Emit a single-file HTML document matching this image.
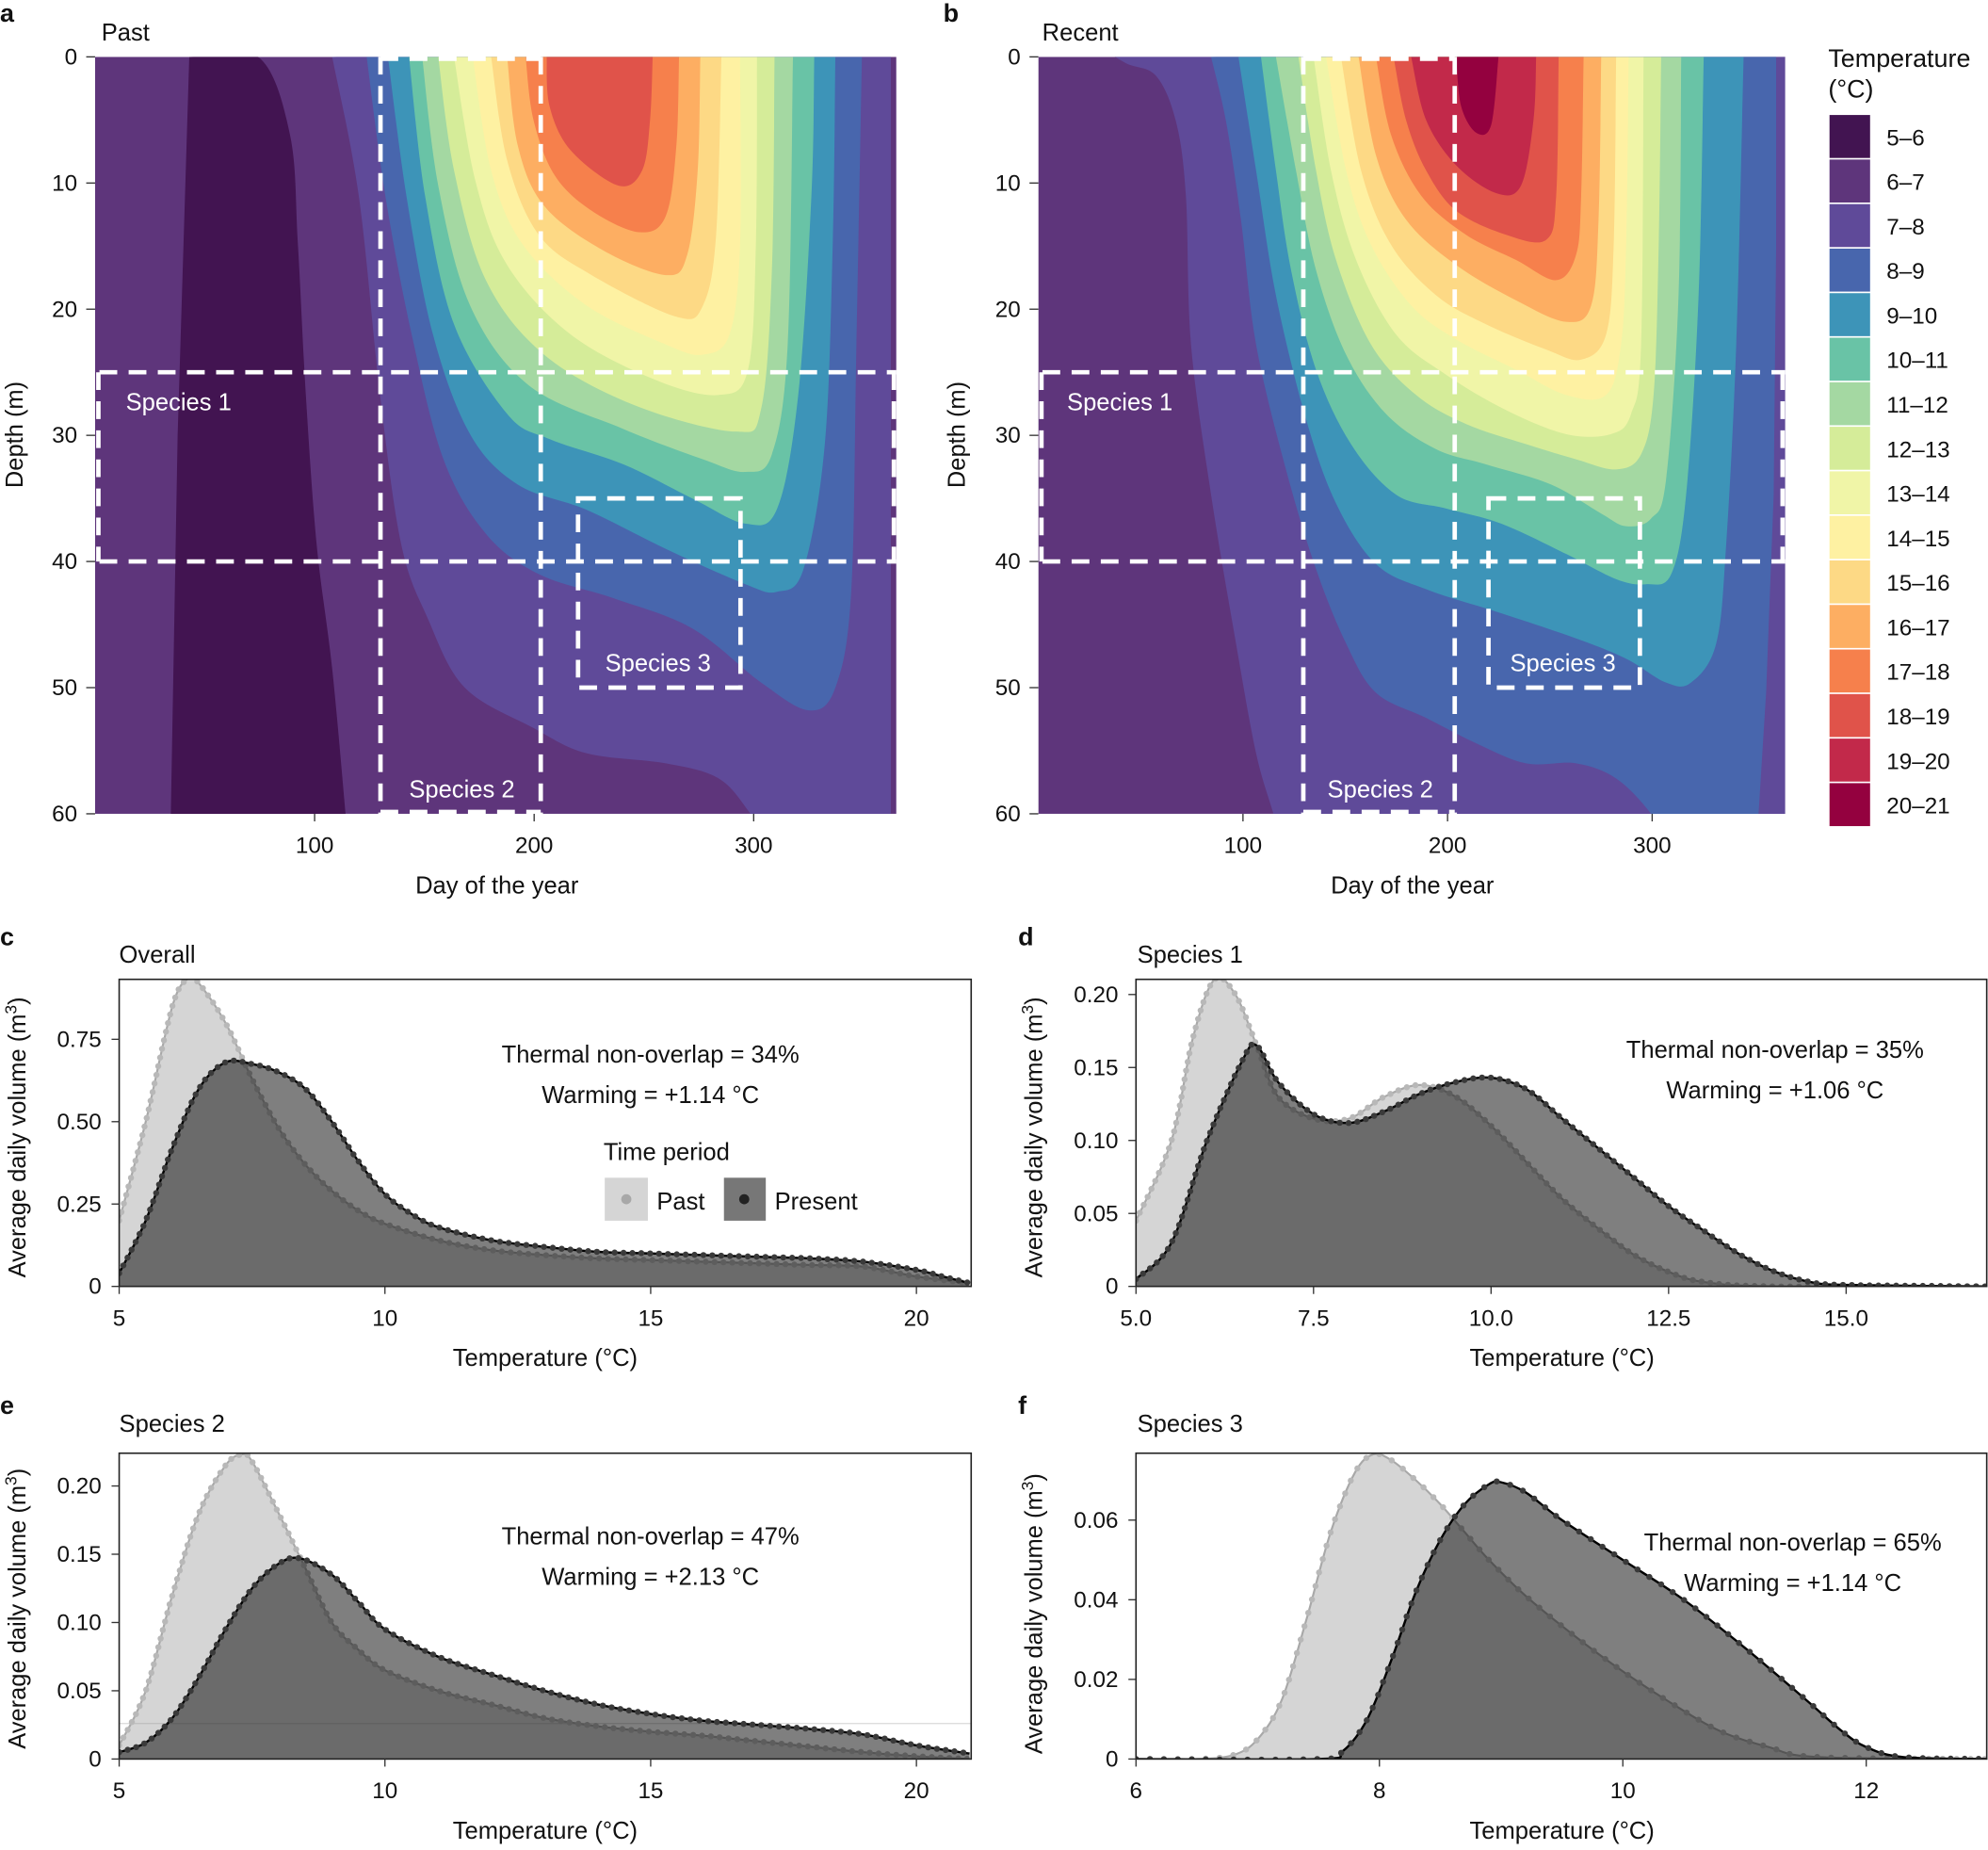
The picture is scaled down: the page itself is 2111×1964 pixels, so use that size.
<!DOCTYPE html>
<html><head><meta charset="utf-8"><style>
html,body{margin:0;padding:0;background:#fff;}
svg{display:block;font-family:"Liberation Sans",Arial,sans-serif;}
</style></head><body>
<svg id="fig" xmlns="http://www.w3.org/2000/svg" width="2111" height="1964" viewBox="0 0 1568 1464" preserveAspectRatio="none">
<defs>
<clipPath id="clipA"><rect x="75" y="45" width="632" height="599"/></clipPath>
<clipPath id="clipB"><rect x="819" y="45" width="589" height="599"/></clipPath>
<clipPath id="clipC"><rect x="94" y="775" width="672" height="243"/></clipPath>
<clipPath id="clipD"><rect x="896" y="775" width="671" height="243"/></clipPath>
<clipPath id="clipE"><rect x="94" y="1150" width="672" height="242"/></clipPath>
<clipPath id="clipF"><rect x="896" y="1150" width="671" height="242"/></clipPath>
</defs>
<g id="root"></g>
<g font-size="19" fill="#111">
<text x="0" y="17" font-weight="bold" font-size="20">a</text>
<text x="744" y="17" font-weight="bold" font-size="20">b</text>
<text x="0" y="748" font-weight="bold" font-size="20">c</text>
<text x="803" y="748" font-weight="bold" font-size="20">d</text>
<text x="0" y="1119" font-weight="bold" font-size="20">e</text>
<text x="803" y="1119" font-weight="bold" font-size="20">f</text>
<text x="80" y="32">Past</text>
<text x="822" y="32">Recent</text>
<text x="94" y="762">Overall</text>
<text x="897" y="762">Species 1</text>
<text x="94" y="1133">Species 2</text>
<text x="897" y="1133">Species 3</text>
<text x="392" y="707" text-anchor="middle">Day of the year</text>
<text x="1114" y="707" text-anchor="middle">Day of the year</text>
<text transform="translate(18,344) rotate(-90)" text-anchor="middle">Depth (m)</text>
<text transform="translate(761,344) rotate(-90)" text-anchor="middle">Depth (m)</text>
<text x="430" y="1081" text-anchor="middle">Temperature (°C)</text>
<text x="1232" y="1081" text-anchor="middle">Temperature (°C)</text>
<text x="430" y="1455" text-anchor="middle">Temperature (°C)</text>
<text x="1232" y="1455" text-anchor="middle">Temperature (°C)</text>
<text transform="translate(20,900) rotate(-90)" text-anchor="middle">Average daily volume (m<tspan font-size="13" dy="-7">3</tspan><tspan dy="7">)</tspan></text>
<text transform="translate(822,900) rotate(-90)" text-anchor="middle">Average daily volume (m<tspan font-size="13" dy="-7">3</tspan><tspan dy="7">)</tspan></text>
<text transform="translate(20,1273) rotate(-90)" text-anchor="middle">Average daily volume (m<tspan font-size="13" dy="-7">3</tspan><tspan dy="7">)</tspan></text>
<text transform="translate(822,1277) rotate(-90)" text-anchor="middle">Average daily volume (m<tspan font-size="13" dy="-7">3</tspan><tspan dy="7">)</tspan></text>
<text x="513" y="841" text-anchor="middle">Thermal non-overlap = 34%</text>
<text x="513" y="873" text-anchor="middle">Warming = +1.14 °C</text>
<text x="1400" y="837" text-anchor="middle">Thermal non-overlap = 35%</text>
<text x="1400" y="869" text-anchor="middle">Warming = +1.06 °C</text>
<text x="513" y="1222" text-anchor="middle">Thermal non-overlap = 47%</text>
<text x="513" y="1254" text-anchor="middle">Warming = +2.13 °C</text>
<text x="1414" y="1227" text-anchor="middle">Thermal non-overlap = 65%</text>
<text x="1414" y="1259" text-anchor="middle">Warming = +1.14 °C</text>
<text x="476" y="918">Time period</text>
<rect x="477" y="932" width="34" height="34" fill="#d5d5d5"/>
<circle cx="494" cy="949" r="4" fill="#a8a8a8"/>
<text x="518" y="957">Past</text>
<rect x="571" y="932" width="33" height="34" fill="#777"/>
<circle cx="587" cy="949" r="4" fill="#222"/>
<text x="611" y="957">Present</text>
<text x="1442" y="53" font-size="20">Temperature</text>
<text x="1442" y="77" font-size="20">(°C)</text>
</g>
</svg>
<script>
const bandLabels = ["5–6","6–7","7–8","8–9","9–10","10–11","11–12","12–13","13–14","14–15","15–16","16–17","17–18","18–19","19–20","20–21"];
const bandColors = ["#421451","#5e357b","#5f4a99","#4866ad","#3d94b8","#69c3a6","#a4d8a2","#d5ec99","#f0f5a7","#fef1a2","#fdd985","#fdae62","#f6804c","#e0534a","#c2294a","#94013f"];
const dayTicks = [100,200,300];
const depthTicks = [0,10,20,30,40,50,60];

const pastCold = [[42.9,0],[74.3,0],[88.8,6.2],[92.4,14.9],[96,26.8],[100.9,38.6],[108,48.5],[114.1,60]];
const pastColdClose = [[34.5,60],[37.6,30],[42.9,0]];
const pastLevels = [7,8,9,10,11,12,13,14,15,16,17,18];
const past7 = [[108,0],[120.1,11],[129.8,26.8],[139.4,38.6],[151.5,44.5],[168.4,50],[199.7,53.2],[223.8,55.2],[260,56],[284.1,57.2],[298.6,60],[310,63]];
const past7Close = [[362.5,63],[362.5,-3]];
const past8 = [[123.7,0],[132.2,11],[144.2,22],[158.7,31.9],[178,37.8],[202.1,41],[235.9,42.9],[272,45.3],[303.4,49.6],[325.1,51.8],[337.2,50],[344.4,42.5],[346.8,22.8],[349.3,0]];
const past9 = [[133.4,0],[141.8,11],[153.9,22],[170.8,29.9],[192.5,33.9],[223.8,35.9],[260,39],[296.2,41.8],[310.7,42.4],[322.7,40.6],[332.4,30.7],[336,14.9],[337.2,0]];
const past10 = [[143,0],[150.3,11],[163.5,21.2],[187.7,28.3],[207,30.3],[240.7,32.3],[272,35],[296.2,37],[310.7,35.8],[320.3,26.8],[326.3,11],[327.6,0]];
const past11 = [[149,0],[156.3,10.2],[170.8,19.7],[197.3,26],[240.7,29.5],[276.9,31.9],[296.2,32.9],[308.3,31.5],[315.5,22.8],[317.9,0]];
const past12 = [[156.3,0],[163.5,9],[178,17.7],[204.5,23.6],[245.5,27.6],[291.4,29.7],[303.4,27.9],[308.3,16.9],[309.5,0]];
const past13 = [[163.5,0],[173.2,9.8],[187.7,16.5],[216.6,22],[255.2,25.6],[284.1,26.8],[297.4,24.8],[301,14.9],[301.5,0]];
const past14 = [[172,0],[180.4,9],[194.9,14.9],[223.8,19.7],[260,22.8],[276.9,23.6],[289,22],[293.8,14.9],[293.8,0]];
const past15 = [[180.4,0],[187.7,8.2],[202.1,14.1],[226.2,17.3],[264.8,20.6],[276.9,19.7],[282.9,14.1],[285.3,0]];
const past16 = [[187.7,0],[192.5,7],[204.5,11.8],[231,15.3],[260,17.3],[269.7,15.7],[274.5,9],[275.7,0]];
const past17 = [[196.1,0],[199.7,5],[209.4,9.4],[226.2,12.2],[248,13.9],[260,12.6],[264.8,7],[266,0]];
const past18 = [[205.7,0],[207,3.9],[216.6,7.4],[238.3,10.2],[249.2,9],[252.8,5],[254,0]];

const recentLevels = [7,8,9,10,11,12,13,14,15,16,17,18,19,20];
const recent7 = [[28.1,-1],[42.8,0.5],[57.5,1.5],[67.2,5.1],[72.1,11],[74.6,22.8],[84.4,34.7],[96.6,46.5],[106.4,55.2],[114.9,60],[120,63]];
const recent7Close = [[370,63],[370,-3]];
const recent8 = [[84.4,0],[91.7,5.1],[99,12.9],[106.4,22.8],[121,32.7],[135.7,40.6],[150.4,46.5],[165,50.4],[189.5,52.4],[213.9,54.4],[238.4,56],[262.8,56],[282.4,57.2],[299.5,60],[310,63]];
const recent8Close = [[351,63],[352,60],[355.7,50.4],[359.4,34.7],[360.6,14.9],[360.6,-3]];
const recent9 = [[97.8,0],[106.4,9],[116.1,18.9],[130.8,28.7],[145.5,35.4],[165,40.2],[189.5,42.2],[226.2,44.1],[262.8,46.1],[287.2,47.7],[306.8,49.6],[319,49.6],[331.3,46.5],[336.2,38.6],[341.1,22.8],[344.7,0]];
const recent10 = [[108.8,0],[116.1,9],[123.5,16.9],[135.7,24.8],[152.8,30.7],[174.8,34.7],[199.3,35.8],[226.2,37],[257.9,39.4],[282.4,41.4],[297,41.8],[309.3,41],[316.6,34.7],[322.7,18.9],[325.2,0]];
const recent11 = [[116.1,0],[125.9,9],[135.7,16.9],[150.4,23.6],[169.9,28.3],[194.4,31.1],[218.8,32.3],[250.6,33.9],[275.1,36.2],[287.2,37.2],[299.5,36.6],[306.8,33.5],[312.9,18.9],[314.2,0]];
const recent12 = [[127.1,0],[135.7,9],[145.5,16.1],[162.6,22.8],[184.6,26.8],[209,29.1],[238.4,30.7],[262.8,31.9],[282.4,32.7],[294.6,31.5],[300.7,26.8],[303.2,14.9],[304.4,0]];
const recent13 = [[134.5,0],[143,9],[155.3,16.1],[174.8,22],[199.3,25.2],[228.6,28],[257.9,29.9],[279.9,29.9],[289.7,28.3],[294.6,22.8],[295.8,0]];
const recent14 = [[140.6,0],[150.4,9],[162.6,14.9],[182.2,19.7],[204.2,22.4],[233.5,24.8],[257.9,26.8],[277.5,26.8],[284.8,22.8],[287.3,14.9],[288.5,0]];
const recent15 = [[147.9,0],[157.7,9],[172.4,14.9],[194.4,18.9],[218.8,21.2],[248.2,23.2],[265.3,24],[277.5,22],[281.2,14.9],[282.4,0]];
const recent16 = [[156.5,0],[165,7.8],[179.7,12.9],[204.2,16.5],[233.5,19.3],[257.9,21],[270.2,19.7],[273.8,12.9],[275.1,0]];
const recent17 = [[165,0],[172.4,6.2],[187.1,11],[209,14.1],[233.5,16.1],[253.1,17.7],[262.8,15.7],[265.3,11],[266.5,0]];
const recent18 = [[173.6,0],[179.7,5],[189.5,9],[204.2,12.2],[228.6,14.1],[248.2,14.5],[253.1,11],[254.3,0]];
const recent19 = [[182.2,0],[189.5,5],[204.2,8.6],[223.7,10.8],[235.9,10.2],[242,5],[243.3,0]];
const recent20 = [[204.2,0],[206.6,3.9],[213.9,6],[221.3,5.4],[224.9,0]];

const species1Depth = [25,40];
const species2Days = [130,203];
const species3Days = [220,294];
const species3Depth = [35,50];

const cPastT = [5,5.5,6,6.3,6.5,7,7.5,8,8.5,9,9.5,10,11,12,13,14,15,16,17,18,19,20,21];
const cPastV = [0.2,0.5,0.85,0.935,0.92,0.8,0.63,0.48,0.37,0.29,0.23,0.19,0.14,0.11,0.095,0.085,0.08,0.075,0.07,0.065,0.06,0.03,0.01];
const cPresT = [5,5.5,6,6.5,7,7.5,8,8.5,9,9.5,10,10.5,11,12,13,14,15,16,17,18,19,20,20.5,21];
const cPresV = [0.04,0.2,0.42,0.6,0.68,0.675,0.65,0.6,0.5,0.38,0.28,0.22,0.18,0.14,0.12,0.105,0.1,0.095,0.09,0.085,0.075,0.05,0.03,0.01];
const cYTicks = [0,0.25,0.5,0.75];
const cYLabels = ["0","0.25","0.50","0.75"];
const cXTicks = [5,10,15,20];

const dPastT = [5,5.5,5.8,6.1,6.4,6.7,7,7.5,8,8.5,9,9.5,10,10.5,11,11.5,12,12.5,13,14,17];
const dPastV = [0.045,0.1,0.17,0.21,0.2,0.165,0.13,0.115,0.115,0.13,0.138,0.13,0.11,0.085,0.06,0.04,0.022,0.01,0.003,0,0];
const dPresT = [5,5.5,6,6.5,6.7,7,7.5,8,8.5,9,9.5,10,10.5,11,11.5,12,12.5,13,13.5,14,14.5,15,17];
const dPresV = [0.005,0.03,0.1,0.155,0.165,0.14,0.118,0.112,0.12,0.132,0.14,0.143,0.135,0.115,0.095,0.075,0.055,0.038,0.022,0.01,0.003,0.001,0];
const dYTicks = [0,0.05,0.1,0.15,0.2];
const dYLabels = ["0","0.05","0.10","0.15","0.20"];
const dXTicks = [5,7.5,10,12.5,15];
const dXLabels = ["5.0","7.5","10.0","12.5","15.0"];

const ePastT = [5,5.5,6,6.5,7,7.3,7.5,8,8.5,9,9.5,10,11,12,13,14,15,16,17,18,19,20,21];
const ePastV = [0.01,0.05,0.12,0.18,0.215,0.223,0.218,0.18,0.14,0.1,0.08,0.065,0.05,0.04,0.03,0.024,0.02,0.017,0.013,0.009,0.005,0.002,0];
const ePresT = [5,5.5,6,6.5,7,7.5,8,8.4,9,9.5,10,11,12,13,14,15,16,17,18,19,20,21];
const ePresV = [0.005,0.012,0.03,0.06,0.095,0.125,0.143,0.147,0.135,0.115,0.095,0.075,0.062,0.05,0.04,0.033,0.028,0.025,0.022,0.018,0.01,0.004];
const eYTicks = [0,0.05,0.1,0.15,0.2];
const eYLabels = ["0","0.05","0.10","0.15","0.20"];

const fPastT = [6,6.5,6.8,7,7.2,7.4,7.6,7.8,7.95,8.1,8.3,8.5,8.7,8.9,9.2,9.6,10,10.4,10.8,11.2,11.6,13];
const fPastV = [0,0,0.001,0.005,0.015,0.035,0.057,0.072,0.0765,0.075,0.07,0.064,0.057,0.05,0.041,0.031,0.022,0.014,0.007,0.003,0.0005,0];
const fPresT = [6,7.5,7.7,7.9,8.1,8.3,8.5,8.7,8.9,9.0,9.2,9.5,10,10.5,11,11.5,11.8,12,12.3,13];
const fPresV = [0,0,0.002,0.01,0.025,0.042,0.055,0.064,0.069,0.0695,0.067,0.06,0.05,0.04,0.028,0.015,0.007,0.003,0.0005,0];
const fYTicks = [0,0.02,0.04,0.06];
const fYLabels = ["0","0.02","0.04","0.06"];
const fXTicks = [6,8,10,12];

const NS = "http://www.w3.org/2000/svg";
const root = document.getElementById('root');
function mk(tag, attrs, parent){
  const e = document.createElementNS(NS, tag);
  for (const k in attrs) e.setAttribute(k, attrs[k]);
  (parent||root).appendChild(e);
  return e;
}
function spline(p){
  let d = `M${p[0][0]},${p[0][1]}`;
  for (let i=0;i<p.length-1;i++){
    const p0=p[i-1]||p[i], p1=p[i], p2=p[i+1], p3=p[i+2]||p2;
    const c1=[p1[0]+(p2[0]-p0[0])/6, p1[1]+(p2[1]-p0[1])/6];
    const c2=[p2[0]-(p3[0]-p1[0])/6, p2[1]-(p3[1]-p1[1])/6];
    d += `C${c1[0]},${c1[1]} ${c2[0]},${c2[1]} ${p2[0]},${p2[1]}`;
  }
  return d;
}
function txt(s, x, y, anchor, parent){
  const t = mk('text', {x:x, y:y, 'text-anchor':anchor||'start', 'font-size':18, fill:'#111'}, parent);
  t.textContent = s;
  return t;
}

function contourPanel(cfg){
  const g = mk('g', {});
  
  
  const sx = d => cfg.x0 + d/365*(cfg.x1-cfg.x0);
  const sy = z => cfg.y0 + z/60*(cfg.y1-cfg.y0);
  const P = pts => pts.map(p=>[sx(p[0]), sy(p[1])]);
  const cg = mk('g', {'clip-path':`url(#${cfg.clip})`}, g);
  const bg = mk('rect', {x:cfg.x0, y:cfg.y0, width:cfg.x1-cfg.x0, height:cfg.y1-cfg.y0, fill:bandColors[1]}, cg);
  
  
  if (cfg.cold){
    let d = spline(P(cfg.cold)) + P(cfg.coldClose).map(p=>`L${p[0]},${p[1]}`).join('') + 'Z';
    const e = mk('path', {d:d, fill:bandColors[0]}, cg);
    
    
  }
  cfg.levels.forEach((lv, i) => {
    const pts = cfg.contours[i];
    let d = spline(P(pts));
    const cl = cfg.closes[i];
    if (cl) d += P(cl).map(p=>`L${p[0]},${p[1]}`).join('');
    d += 'Z';
    const e = mk('path', {d:d, fill:bandColors[lv-5]}, cg);
    
    
  });
  const dash = {stroke:'#fff', 'stroke-width':3.5, 'stroke-dasharray':'14 9', fill:'none'};
  const L = (x1,y1,x2,y2,name) => { const e = mk('line', Object.assign({x1:x1,y1:y1,x2:x2,y2:y2}, dash), g);
    
     };
  L(sx(2), sy(species1Depth[0]), cfg.x1, sy(species1Depth[0]), 'species-1-top');
  L(sx(2), sy(species1Depth[1]), cfg.x1, sy(species1Depth[1]), 'species-1-bottom');
  L(sx(1.5), sy(species1Depth[0]), sx(1.5), sy(species1Depth[1]), 'species-1-left');
  L(cfg.x1-2, sy(species1Depth[0]), cfg.x1-2, sy(species1Depth[1]), 'species-1-right');
  L(sx(species2Days[0]+cfg.s2off[0]), cfg.y0, sx(species2Days[0]+cfg.s2off[0]), cfg.y1, 'species-2-left');
  L(sx(species2Days[1]+cfg.s2off[1]), cfg.y0, sx(species2Days[1]+cfg.s2off[1]), cfg.y1, 'species-2-right');
  L(sx(species2Days[0]+cfg.s2off[0]), cfg.y0+1.5, sx(species2Days[1]+cfg.s2off[1]), cfg.y0+1.5, 'species-2-top');
  L(sx(species2Days[0]+cfg.s2off[0]), cfg.y1-1.5, sx(species2Days[1]+cfg.s2off[1]), cfg.y1-1.5, 'species-2-bottom');
  const b3 = mk('rect', Object.assign({x:sx(species3Days[0]), y:sy(species3Depth[0]), width:sx(species3Days[1])-sx(species3Days[0]), height:sy(species3Depth[1])-sy(species3Depth[0])}, dash), g);
  
  
  const t1 = mk('text', {x:sx(14), y:sy(27.4)+6, fill:'#fff', 'font-size':19}, g); t1.textContent='Species 1';
   
  const t2 = mk('text', {x:(sx(species2Days[0])+sx(species2Days[1]))/2+1, y:sy(58.1)+6, fill:'#fff', 'font-size':19, 'text-anchor':'middle'}, g); t2.textContent='Species 2';
   
  const t3 = mk('text', {x:(sx(species3Days[0])+sx(species3Days[1]))/2-1, y:sy(48.1)+6, fill:'#fff', 'font-size':19, 'text-anchor':'middle'}, g); t3.textContent='Species 3';
   
  depthTicks.forEach(v => {
    const tk = mk('line', {x1:cfg.x0-7, x2:cfg.x0, y1:sy(v), y2:sy(v), stroke:'#333', 'stroke-width':1}, g);
     
    const t = txt(String(v), cfg.x0-14, sy(v)+6, 'end', g);
     
  });
  dayTicks.forEach(v => {
    const tk = mk('line', {x1:sx(v), x2:sx(v), y1:cfg.y1, y2:cfg.y1+6, stroke:'#333', 'stroke-width':1}, g);
     
    const t = txt(String(v), sx(v), cfg.y1+31, 'middle', g);
     
  });
}
contourPanel({name:'past-contour-panel', x0:75, x1:707, y0:45, y1:644, clip:'clipA', s2off:[0,0],
  cold:pastCold, coldClose:pastColdClose, levels:pastLevels,
  contours:[past7,past8,past9,past10,past11,past12,past13,past14,past15,past16,past17,past18],
  closes:[past7Close]});
contourPanel({name:'recent-contour-panel', x0:819, x1:1408, y0:45, y1:644, clip:'clipB', s2off:[-0.5,0.5],
  cold:null, levels:recentLevels,
  contours:[recent7,recent8,recent9,recent10,recent11,recent12,recent13,recent14,recent15,recent16,recent17,recent18,recent19,recent20],
  closes:[recent7Close, recent8Close]});

bandLabels.forEach((lab, i) => {
  const y = 91 + i*35.25;
  const r = mk('rect', {x:1443, y:y, width:32, height:34, fill:bandColors[i]});
  
  
  const t = txt(lab, 1488, y+24, 'start');
  
  
});

function densityPanel(cfg){
  const g = mk('g', {});
  
  
  const sx = v => cfg.x0 + (v-cfg.xmin)/(cfg.xmax-cfg.xmin)*(cfg.x1-cfg.x0);
  const sy = v => cfg.y1 - (v-cfg.ymin)/(cfg.ymax-cfg.ymin)*(cfg.y1-cfg.y0);
  const cg = mk('g', {'clip-path':`url(#${cfg.clip})`}, g);
  if (cfg.hline){
    const h = mk('line', {x1:cfg.x0, x2:cfg.x1, y1:sy(cfg.hline), y2:sy(cfg.hline), stroke:'#ddd', 'stroke-width':1}, cg);
     
  }
  const series = [
    {T:cfg.pastT, V:cfg.pastV, fill:'rgba(150,150,150,0.4)', line:'#a8a8a8', dot:'#b8b8b8', lw:1.6, name:'past'},
    {T:cfg.presT, V:cfg.presV, fill:'rgba(10,10,10,0.52)', line:'#000', dot:'#3a3a3a', lw:1.8, name:'present'}
  ];
  series.forEach(s => {
    const pts = s.T.map((t,i)=>[sx(t), sy(s.V[i])]);
    const cd = spline(pts);
    const area = mk('path', {d: cd + `L${pts[pts.length-1][0]},${sy(0)}L${pts[0][0]},${sy(0)}Z`, fill:s.fill}, cg);
    
    
    const ln = mk('path', {d:cd, fill:'none', stroke:s.line, 'stroke-width':s.lw}, cg);
    
    
    const len = ln.getTotalLength();
    const dg = mk('g', {fill:s.dot}, cg);
    
    
    for (let l=0; l<=len; l+=cfg.step){
      const p = ln.getPointAtLength(l);
      mk('circle', {cx:p.x.toFixed(1), cy:p.y.toFixed(1), r:2.4}, dg);
    }
  });
  const fr = mk('rect', {x:cfg.x0, y:cfg.y0, width:cfg.x1-cfg.x0, height:cfg.y1-cfg.y0, fill:'none', stroke:'#222', 'stroke-width':1.2}, g);
   
  cfg.yTicks.forEach((v,i) => {
    const tk = mk('line', {x1:cfg.x0-6, x2:cfg.x0, y1:sy(v), y2:sy(v), stroke:'#333'}, g);
     
    const t = txt(cfg.yLabels[i], cfg.x0-14, sy(v)+6, 'end', g);
     
  });
  cfg.xTicks.forEach((v,i) => {
    const tk = mk('line', {x1:sx(v), x2:sx(v), y1:cfg.y1, y2:cfg.y1+6, stroke:'#333'}, g);
     
    const t = txt(cfg.xLabels ? cfg.xLabels[i] : String(v), sx(v), cfg.y1+31, 'middle', g);
     
  });
}
densityPanel({name:'overall-density-panel', x0:94, x1:766, y0:775, y1:1018, clip:'clipC', xmin:5, xmax:21.03, ymin:0, ymax:0.932, step:7,
  pastT:cPastT, pastV:cPastV, presT:cPresT, presV:cPresV, yTicks:cYTicks, yLabels:cYLabels, xTicks:cXTicks});
densityPanel({name:'species-1-density-panel', x0:896, x1:1567, y0:775, y1:1018, clip:'clipD', xmin:5, xmax:16.98, ymin:0, ymax:0.2104, step:7,
  pastT:dPastT, pastV:dPastV, presT:dPresT, presV:dPresV, yTicks:dYTicks, yLabels:dYLabels, xTicks:dXTicks, xLabels:dXLabels});
densityPanel({name:'species-2-density-panel', x0:94, x1:766, y0:1150, y1:1392, clip:'clipE', xmin:5, xmax:21.03, ymin:0, ymax:0.224, step:7, hline:0.026,
  pastT:ePastT, pastV:ePastV, presT:ePresT, presV:ePresV, yTicks:eYTicks, yLabels:eYLabels, xTicks:cXTicks});
densityPanel({name:'species-3-density-panel', x0:896, x1:1567, y0:1150, y1:1392, clip:'clipF', xmin:6, xmax:12.99, ymin:0, ymax:0.0768, step:11,
  pastT:fPastT, pastV:fPastV, presT:fPresT, presV:fPresV, yTicks:fYTicks, yLabels:fYLabels, xTicks:fXTicks});
</script>
</body></html>
